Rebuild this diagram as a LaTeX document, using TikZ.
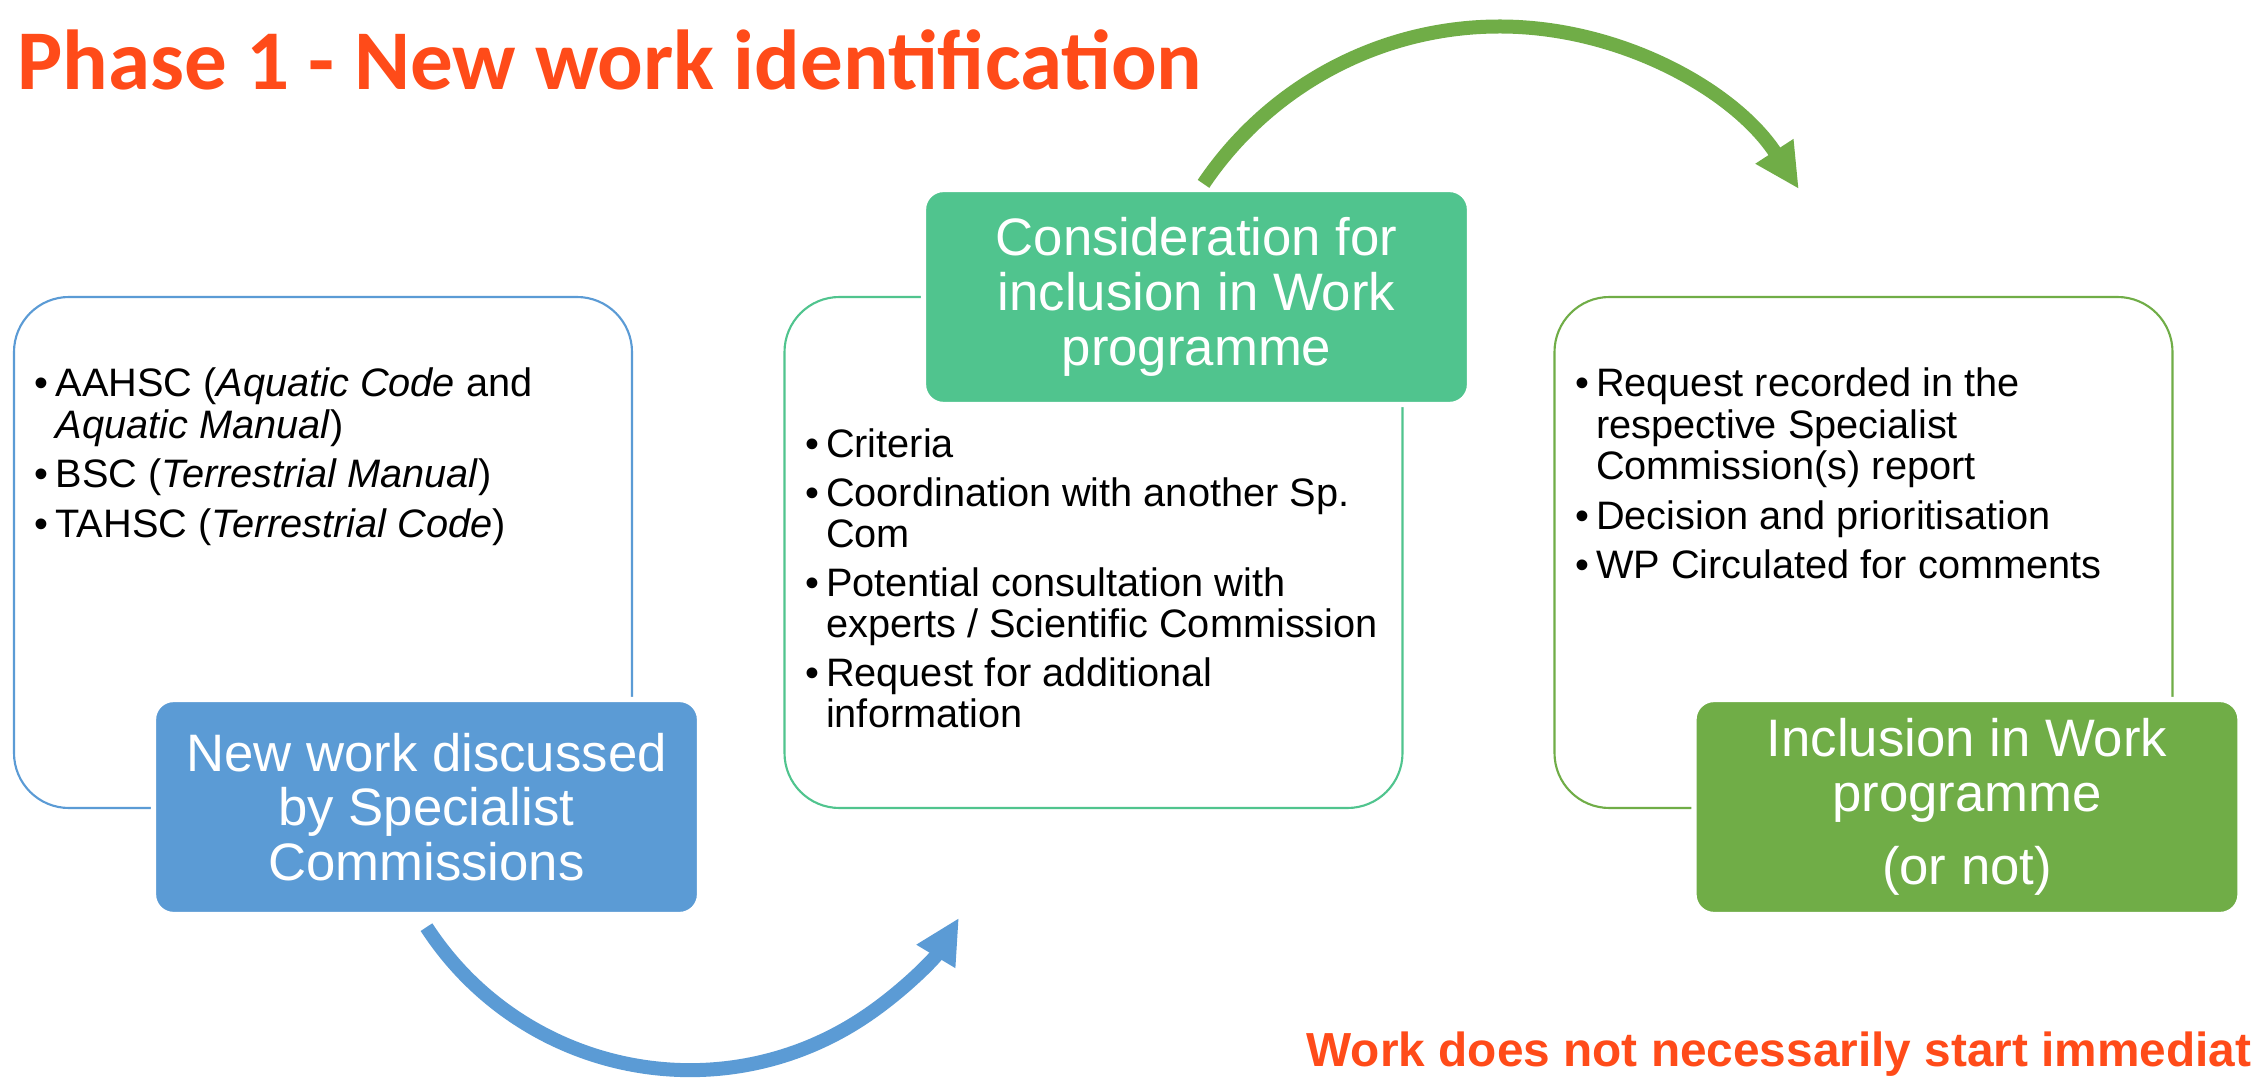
\documentclass[tikz,border=0pt]{standalone}
\usepackage{fontspec}
\setmainfont{Liberation Sans}
\newfontfamily\titlefont{Carlito}
\usetikzlibrary{arrows.meta,positioning}
\definecolor{TitleClr}{RGB}{255,75,25}
\definecolor{BlueClr}{RGB}{91,155,213}
\definecolor{TealClr}{RGB}{80,196,142}
\definecolor{GreenClr}{RGB}{112,173,71}

\begin{document}
\begin{tikzpicture}[
  frame/.style={draw=#1,line width=0.6pt,rounded corners=0.55cm,
    minimum width=6.18cm,minimum height=5.11cm},
  tag/.style={fill=#1,draw=white,line width=1.5pt,rounded corners=0.2cm,
    minimum width=5.46cm,minimum height=2.15cm,text=white,align=center,
    font=\fontsize{15}{15.6}\selectfont},
  list/.style={anchor=base west,inner sep=0pt,font=\fontsize{11.3}{11.8}\selectfont},
  flow/.style={draw=#1,line width=0.14cm,-{Triangle[length=0.45cm,width=0.42cm]}}]
\path[use as bounding box,fill=white] (0,0) rectangle (22.51,10.79);

% Outlined boxes.
\node[frame=BlueClr] (frameA) at (3.23,5.265) {};
\node[frame=TealClr] (frameB) at (10.935,5.265) {};
\node[frame=GreenClr] (frameC) at (18.635,5.265) {};

% Filled boxes.
\node[tag=BlueClr] (tagA) at (4.265,2.72) {New work discussed\\by Specialist\\Commissions};
\node[tag=TealClr] (tagB) at (11.965,7.82) {Consideration for\\inclusion in Work\\programme};
\node[tag=GreenClr] (tagC) at (19.67,2.72) {Inclusion in Work\\programme\\[0.19cm](or not)};

% Bullet lists.
\node[list] (listA) at ([shift={(0.21,-1.01)}]frameA.north west) {%
  \begin{tabular}[t]{@{}l@{\hspace{0.07cm}}l@{}}
  \textbullet & AAHSC (\textit{Aquatic Code} and\\
              & \textit{Aquatic Manual})\\[0.08cm]
  \textbullet & BSC (\textit{Terrestrial Manual})\\[0.08cm]
  \textbullet & TAHSC (\textit{Terrestrial Code})
  \end{tabular}};
\node[list] (listB) at ([shift={(0.21,-1.62)}]frameB.north west) {%
  \begin{tabular}[t]{@{}l@{\hspace{0.07cm}}l@{}}
  \textbullet & Criteria\\[0.07cm]
  \textbullet & Coordination with another Sp.\\
              & Com\\[0.07cm]
  \textbullet & Potential consultation with\\
              & experts / Scientific Commission\\[0.07cm]
  \textbullet & Request for additional\\
              & information
  \end{tabular}};
\node[list] (listC) at ([shift={(0.21,-1.01)}]frameC.north west) {%
  \begin{tabular}[t]{@{}l@{\hspace{0.07cm}}l@{}}
  \textbullet & Request recorded in the\\
              & respective Specialist\\
              & Commission(s) report\\[0.08cm]
  \textbullet & Decision and prioritisation\\[0.08cm]
  \textbullet & WP Circulated for comments
  \end{tabular}};

% Curved arrows.
\draw[flow=BlueClr] ([yshift=-0.1cm]tagA.south) arc[start angle=213,end angle=329,radius=3.14];
\draw[flow=GreenClr] ([xshift=0.07cm,yshift=0.03cm]tagB.north) arc[start angle=146,end angle=33,radius=3.57];

% Title and note.
\node[anchor=base west,inner sep=0pt,text=TitleClr,
  font=\titlefont\bfseries\fontsize{24.2}{29}\selectfont] (title) at (0.17,9.89)
  {Phase 1 - New work identification};
\node[anchor=base west,inner sep=0pt,text=TitleClr,
  font=\bfseries\fontsize{13.6}{16}\selectfont] (note) at (13.06,0.13)
  {Work does not necessarily start immediat};

\end{tikzpicture}
\end{document}
